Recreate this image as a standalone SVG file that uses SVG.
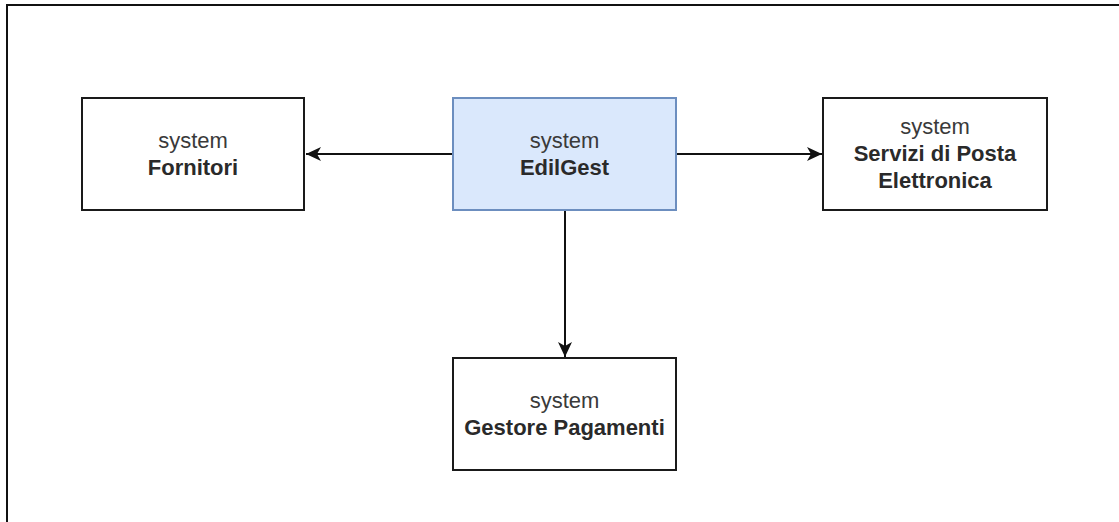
<svg xmlns="http://www.w3.org/2000/svg" width="1119" height="522" viewBox="0 0 1119 522">
  <style>
    .box { fill: #ffffff; stroke: #1a1a1a; stroke-width: 2; }
    .box.main { fill: #dae8fc; stroke: #6c8ebf; }
    .kind { font-family: "Liberation Sans", Arial, sans-serif; font-size: 22px; fill: #3a3a3a; text-anchor: middle; }
    .name { font-family: "Liberation Sans", Arial, sans-serif; font-size: 22px; font-weight: bold; fill: #2a2a2a; text-anchor: middle; }
    .edge { stroke: #111111; stroke-width: 2; fill: none; }
  </style>
  <defs>
    <marker id="arrow" viewBox="0 0 16 14" refX="15" refY="7" markerWidth="16" markerHeight="14" markerUnits="userSpaceOnUse" orient="auto">
      <path d="M15,7 L0,0 L4,7 L0,14 Z" fill="#111111"/>
    </marker>
  </defs>

  <rect width="1119" height="522" fill="#ffffff"/>
  <!-- outer frame -->
  <rect x="7" y="5" width="1130" height="540" fill="none" stroke="#111111" stroke-width="2"/>

  <g id="connectors">
    <line class="edge" x1="453" y1="154" x2="306" y2="154" marker-end="url(#arrow)"/>
    <line class="edge" x1="676" y1="154" x2="822" y2="154" marker-end="url(#arrow)"/>
    <line class="edge" x1="565" y1="210" x2="565" y2="357" marker-end="url(#arrow)"/>
  </g>

  <g id="fornitori">
    <rect class="box" x="82" y="98" width="222" height="112"/>
    <text class="kind" x="193" y="148">system</text>
    <text class="name" x="193" y="175">Fornitori</text>
  </g>

  <g id="edilgest">
    <rect class="box main" x="453" y="98" width="223" height="112"/>
    <text class="kind" x="564.5" y="148">system</text>
    <text class="name" x="564.5" y="175">EdilGest</text>
  </g>

  <g id="posta">
    <rect class="box" x="823" y="98" width="224" height="112"/>
    <text class="kind" x="935" y="134">system</text>
    <text class="name" x="935" y="161">Servizi di Posta</text>
    <text class="name" x="935" y="188">Elettronica</text>
  </g>

  <g id="pagamenti">
    <rect class="box" x="453" y="358" width="223" height="112"/>
    <text class="kind" x="564.5" y="408">system</text>
    <text class="name" x="564.5" y="435">Gestore Pagamenti</text>
  </g>
</svg>
